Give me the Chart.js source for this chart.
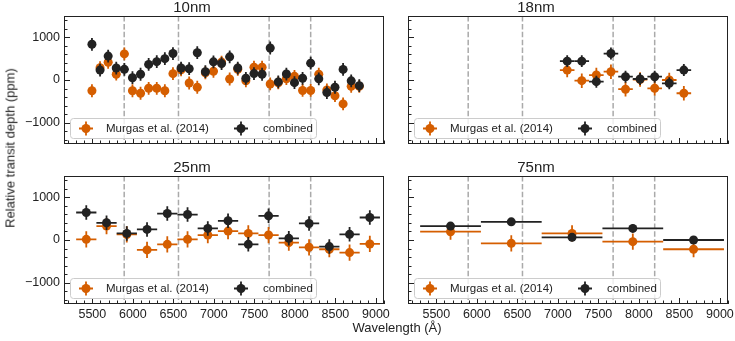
<!DOCTYPE html>
<html lang="en">
<head>
  <meta charset="UTF-8">
  <title>Relative transit depth</title>
  <script src="https://cdn.jsdelivr.net/npm/chart.js"></script>
  <style>
    html, body { margin: 0; padding: 0; background: #fff; }
    #fig {
      position: relative;
      width: 735px;
      height: 341px;
      overflow: hidden;
      font-family: 'Liberation Sans', Arial, sans-serif;
      color: #222;
    }
    #fig canvas { position: absolute; }
    .ylabel {
      position: absolute; left: 10px; top: 148px;
      transform: translate(-50%, -50%) rotate(-90deg);
      font-size: 13px; white-space: nowrap;
    }
    .xlabel {
      position: absolute; left: 397px; top: 327px;
      transform: translate(-50%, -50%);
      font-size: 13px; white-space: nowrap;
    }
  </style>
</head>
<body>
<div id="fig">
  <canvas id="c10" width="400" height="150" style="left:0;top:0"></canvas>
  <canvas id="c18" width="391" height="150" style="left:344px;top:0"></canvas>
  <canvas id="c25" width="400" height="181" style="left:0;top:160px"></canvas>
  <canvas id="c75" width="391" height="181" style="left:344px;top:160px"></canvas>
  <div class="ylabel">Relative transit depth (ppm)</div>
  <div class="xlabel">Wavelength (Å)</div>
</div>

<script>
  // axes
  const xMin = 5150, xMax = 9100;
  const yMin = -1500, yMax = 1500;
  const xTicks = [5500, 6000, 6500, 7000, 7500, 8000, 8500, 9000];
  const yTicks = [-1000, 0, 1000];
  const lineWl = [5893, 6563, 7682, 8195];   // dashed lines
  const seriesNames = ['Murgas et al. (2014)', 'combined'];
  const seriesColors = ['#d55e00', '#222222'];

  // 10nm
  const wl10 = [5495, 5595, 5695, 5795, 5895, 5995, 6095, 6195, 6295, 6395, 6495, 6595,
                6695, 6795, 6895, 6995, 7095, 7195, 7295, 7395, 7495, 7595, 7695, 7795,
                7895, 7995, 8095, 8195, 8295, 8395, 8495, 8595, 8695, 8795];
  const murgas10 = [-252, 290, 415, 136, 612, -252, -310, -194, -194, -252, 148, 240,
                    -70, -170, 170, 205, 420, 23, 250, -20, 300, 300, -93, -66,
                    30, 85, -245, -245, 137, -233, -368, -560, -148, -150];
  const comb10 = [837, 233, 560, 280, 250, 54, 135, 365, 430, 500, 620, 280,
                  265, 640, 194, 426, 385, 542, 280, 40, 150, 135, 750, -45,
                  140, -62, 40, 395, 27, -295, -170, 249, -20, -133];

  // 18nm
  const wl18 = [7115, 7295, 7475, 7655, 7835, 8015, 8195, 8375, 8555];
  const murgas18 = [233, -16, 116, 194, -216, 10, -194, 0, -310];
  const comb18 = [442, 442, -39, 620, 77, 23, 77, -77, 233];

  // 25nm
  const wl25 = [5425, 5675, 5925, 6175, 6425, 6675, 6925, 7175, 7425, 7675, 7925, 8175, 8425, 8675, 8925];
  const murgas25 = [16, 326, 130, -233, -101, 16, 116, 209, 155, 116, -62, -171, -217, -295, -93];
  const comb25 = [644, 403, 155, 248, 620, 597, 271, 450, -101, 566, 39, 388, -155, 132, 527];

  // 75nm
  const wl75 = [5675, 6425, 7175, 7925, 8675];
  const murgas75 = [194, -78, 155, -39, -217];
  const comb75 = [326, 426, 62, 271, 0];

  // half bin widths (A) and typical errors (ppm)
  const halfBin = { '10nm': 50, '18nm': 90, '25nm': 125, '75nm': 375 };
  const errMurgas = { '10nm': 150, '18nm': 170, '25nm': 190, '75nm': 190 };
  const errComb = { '10nm': 150, '18nm': 140, '25nm': 170, '75nm': 90 };

  const fontFamily = "'Liberation Sans', Arial, sans-serif";
  Chart.defaults.font.family = fontFamily;
  Chart.defaults.color = '#222';

  function minusFmt(v) {
    return v < 0 ? '\u2212' + Math.abs(v) : String(v);
  }

  const panelPlugin = {
    id: 'panel',
    beforeDatasetsDraw(chart) {
      const { ctx, chartArea: a, scales: { x } } = chart;
      ctx.save();
      ctx.strokeStyle = '#aaaaaa';
      ctx.lineWidth = 1.5;
      ctx.setLineDash([5.5, 2.4]);
      lineWl.forEach(w => {
        const px = x.getPixelForValue(w);
        ctx.beginPath();
        ctx.moveTo(px, a.top);
        ctx.lineTo(px, a.bottom);
        ctx.stroke();
      });
      ctx.restore();
    },
    beforeDatasetDraw(chart, args) {
      const ds = chart.data.datasets[args.index];
      const { ctx, scales: { x, y } } = chart;
      ctx.save();
      ctx.strokeStyle = ds.backgroundColor;
      ctx.lineWidth = 1.8;
      ds.data.forEach(p => {
        const px = x.getPixelForValue(p.x);
        const py = y.getPixelForValue(p.y);
        ctx.beginPath();
        ctx.moveTo(x.getPixelForValue(p.x - ds.xErr), py);
        ctx.lineTo(x.getPixelForValue(p.x + ds.xErr), py);
        ctx.moveTo(px, y.getPixelForValue(p.y - ds.yErr));
        ctx.lineTo(px, y.getPixelForValue(p.y + ds.yErr));
        ctx.stroke();
      });
      ctx.restore();
    },
    afterDatasetsDraw(chart) {
      const { ctx, chartArea: a, scales: { x, y } } = chart;
      ctx.save();
      ctx.strokeStyle = '#222';
      ctx.lineWidth = 1;
      ctx.beginPath();
      // inward ticks, minor every 100 A / 200 ppm
      for (let v = Math.ceil(xMin / 100) * 100; v <= xMax; v += 100) {
        const px = Math.round(x.getPixelForValue(v)) + 0.5;
        const len = v % 500 === 0 ? 6 : 3.5;
        ctx.moveTo(px, a.bottom);
        ctx.lineTo(px, a.bottom - len);
      }
      for (let v = yMin + 100; v < yMax; v += 200) {
        const py = Math.round(y.getPixelForValue(v)) + 0.5;
        const len = v % 1000 === 0 ? 6 : 3.5;
        ctx.moveTo(a.left, py);
        ctx.lineTo(a.left + len, py);
      }
      ctx.stroke();
      ctx.strokeRect(Math.round(a.left) + 0.5, Math.round(a.top) + 0.5,
                     Math.round(a.width) - 1, Math.round(a.height) - 1);
      ctx.restore();
    },
    afterDraw(chart) {
      // legend box, lower left
      const { ctx, chartArea: a } = chart;
      const bw = 246, bh = 20;
      const bx = a.left + 6, by = a.bottom - 6 - bh;
      ctx.save();
      ctx.fillStyle = 'rgba(255,255,255,0.8)';
      ctx.strokeStyle = '#cccccc';
      ctx.lineWidth = 1;
      ctx.beginPath();
      ctx.roundRect(bx + 0.5, by + 0.5, bw, bh, 3);
      ctx.fill();
      ctx.stroke();
      const markX = [16, 171], textX = [36, 193];
      const my = by + bh / 2 + 0.5;
      ctx.font = '11.5px ' + fontFamily;
      ctx.textBaseline = 'middle';
      chart.data.datasets.forEach((ds, i) => {
        const mx = bx + markX[i];
        ctx.strokeStyle = ds.backgroundColor;
        ctx.fillStyle = ds.backgroundColor;
        ctx.lineWidth = 1.8;
        ctx.beginPath();
        ctx.moveTo(mx - 7, my); ctx.lineTo(mx + 7, my);
        ctx.moveTo(mx, my - 7); ctx.lineTo(mx, my + 7);
        ctx.stroke();
        ctx.beginPath();
        ctx.arc(mx, my, 4.5, 0, Math.PI * 2);
        ctx.fill();
        ctx.fillStyle = '#222';
        ctx.fillText(ds.label, bx + textX[i], my);
      });
      ctx.restore();
    }
  };

  function makePanel(id, title, wl, murgas, comb, showX, showY, padRight) {
    const toPts = vals => vals.map((v, i) => ({ x: wl[i], y: v }));
    return new Chart(document.getElementById(id), {
      type: 'scatter',
      data: {
        datasets: [
          { label: seriesNames[0], data: toPts(murgas), backgroundColor: seriesColors[0],
            pointRadius: 4.5, pointBorderWidth: 0, xErr: halfBin[title], yErr: errMurgas[title], order: 1 },
          { label: seriesNames[1], data: toPts(comb), backgroundColor: seriesColors[1],
            pointRadius: 4.5, pointBorderWidth: 0, xErr: halfBin[title], yErr: errComb[title], order: 0 }
        ]
      },
      options: {
        responsive: false,
        animation: false,
        devicePixelRatio: 1,
        events: [],
        layout: { padding: { left: 0, right: padRight, top: 0, bottom: 0 } },
        plugins: {
          legend: { display: false },
          tooltip: { enabled: false },
          title: {
            display: true, text: title, color: '#222',
            font: { size: 15, weight: 'normal', lineHeight: 1 },
            padding: { top: 0, bottom: 1 }
          }
        },
        scales: {
          x: {
            type: 'linear', min: xMin, max: xMax,
            grid: { display: false, drawTicks: false },
            border: { display: false },
            ticks: { display: showX, font: { size: 12.5 }, color: '#222', padding: 3,
                     maxRotation: 0, callback: v => String(v) },
            afterBuildTicks: s => { s.ticks = xTicks.map(v => ({ value: v })); },
            afterFit: s => {
              s.height = showX ? 37 : 6;
              s.paddingLeft = 0; s.paddingRight = 0;
            }
          },
          y: {
            type: 'linear', min: yMin, max: yMax,
            grid: { display: false, drawTicks: false },
            border: { display: false },
            ticks: { display: showY, font: { size: 12.5 }, color: '#222', padding: 4,
                     callback: v => minusFmt(v) },
            afterBuildTicks: s => { s.ticks = yTicks.map(v => ({ value: v })); },
            afterFit: s => {
              s.width = 64;
              s.paddingTop = 0; s.paddingBottom = 0;
            }
          }
        }
      },
      plugins: [panelPlugin]
    });
  }

  makePanel('c10', '10nm', wl10, murgas10, comb10, false, true, 16);
  makePanel('c18', '18nm', wl18, murgas18, comb18, false, false, 7);
  makePanel('c25', '25nm', wl25, murgas25, comb25, true, true, 16);
  makePanel('c75', '75nm', wl75, murgas75, comb75, true, false, 7);
</script>
</body>
</html>
